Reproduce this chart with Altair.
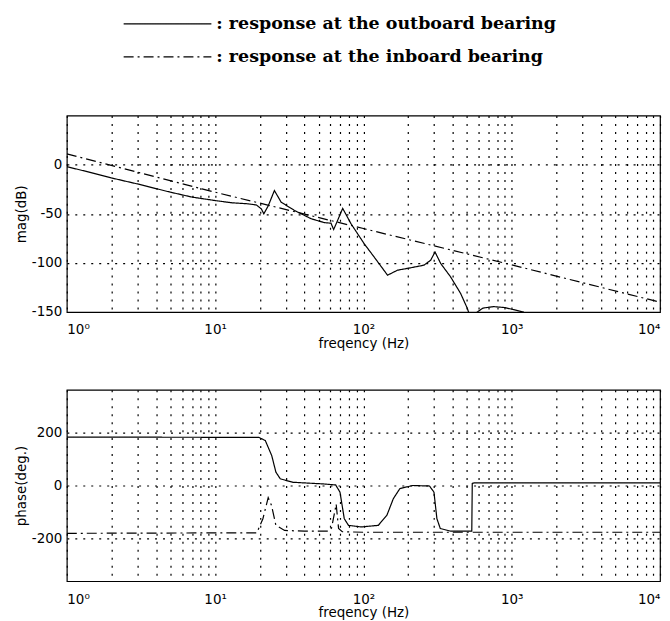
import altair as alt
import pandas as pd

SERIES = [": response at the outboard bearing", ": response at the inboard bearing"]

# magnitude, outboard bearing (solid)
mag_out_f = [1, 1.5, 2, 3, 5, 7, 10, 13, 16.6, 19, 20.5, 21.3, 22.8, 25.1, 27.9, 34.3, 44.4, 54.5,
             60.4, 63, 66, 72.5, 82.4, 101, 118, 145.5, 170, 208, 256, 284, 304, 332, 387, 452,
             501, 540, 586, 640, 754, 900, 1200, 1300, 10000]
mag_out_db = [-2, -8.5, -13.5, -19.6, -28, -33, -36.5, -38.8, -39.8, -41, -45, -50, -42, -26.3, -38.2,
              -46.6, -55, -59, -59.5, -66, -59, -44.5, -60, -80.3, -93.9, -112.5, -107.4, -105,
              -102.3, -97.3, -88.9, -100.6, -114.2, -131, -146, -160, -150, -146, -144.5, -145.5,
              -150, -160, -200]
# magnitude, inboard bearing (dash-dot)
mag_in_f = [1, 10, 100, 1000, 10000]
mag_in_db = [11, -28, -65, -102, -140]

# phase, outboard bearing (solid)
ph_out_f = [1, 19.7, 21.8, 24.1, 25.7, 27.5, 33.5, 53, 65, 69.5, 74.3, 79.3, 96.8, 126, 144, 159,
            176, 214, 279, 299, 313, 330, 389, 538, 542, 560, 10000]
ph_out_deg = [182, 181, 169, 112, 50, 25, 12, 6, 2, -25, -125, -150, -156, -150, -112, -50,
              -12, 0, -2, -25, -125, -162, -172, -172, 8, 10, 10]
# phase, inboard bearing (dash-dot)
ph_in_f = [1, 19.1, 21, 22.8, 24, 25.7, 29.4, 40, 58, 61, 64, 65.5, 68, 72, 100, 1000, 10000]
ph_in_deg = [-180, -178, -125, -46, -75, -150, -169, -172, -172, -160, -100, -70, -162, -174, -176, -176, -176]

X_TICKS = [d * 10 ** k for k in range(4) for d in range(1, 10)] + [10000]
MAG_TICKS = [-150, -100, -50, 0]
PH_TICKS = [-200, 0, 200]


def frame(fs, vs, name):
    return pd.DataFrame({"f": fs, "v": vs, "s": name, "o": list(range(len(fs)))})


mag = pd.concat([frame(mag_out_f, mag_out_db, SERIES[0]), frame(mag_in_f, mag_in_db, SERIES[1])])
ph = pd.concat([frame(ph_out_f, ph_out_deg, SERIES[0]), frame(ph_in_f, ph_in_deg, SERIES[1])])
leg = pd.DataFrame({"s": SERIES})

X_LABELS = ("datum.value == 1 ? '10⁰' : datum.value == 10 ? '10¹' : datum.value == 100 ? '10²' : "
            "datum.value == 1000 ? '10³' : datum.value == 10000 ? '10⁴' : ''")
Y_LABELS = "datum.value < 0 ? '-' + abs(datum.value) : '' + datum.value"

FONT = "DejaVu Sans"
common_axis = dict(grid=True, gridDash=[2, 6], gridColor="black", gridOpacity=1, gridWidth=1.2,
                   tickSize=0, domain=False, labelFont=FONT, labelFontSize=13.5,
                   labelColor="black", titleFont=FONT, titleFontWeight="normal",
                   titleColor="black", titleFontSize=13.5, labelOverlap=False)

DASH = alt.Scale(domain=SERIES, range=[[1, 0], [10, 4, 2, 4]])


def xenc():
    return alt.X("f:Q", scale=alt.Scale(type="log", domain=[1, 10000], nice=False),
                 axis=alt.Axis(values=X_TICKS, labelExpr=X_LABELS, title="freqency (Hz)",
                               labelPadding=11, titlePadding=0, **common_axis))


def yaxis(ticks, title):
    return alt.Axis(values=ticks, labelExpr=Y_LABELS, title=title, labelPadding=5,
                    titlePadding=3, **common_axis)


LEG_Y = alt.Y("s:N", scale=alt.Scale(type="point", domain=SERIES, range=[9, 42], padding=0), axis=None)

legend_rules = alt.Chart(leg).mark_rule(color="black", strokeWidth=1.2).encode(
    x=alt.value(57), x2=alt.value(145),
    y=LEG_Y,
    strokeDash=alt.StrokeDash("s:N", scale=DASH, legend=None),
)
legend_text = alt.Chart(leg).mark_text(align="left", baseline="middle", font="DejaVu Serif",
                                       fontWeight="bold", fontSize=17.5, color="black").encode(
    x=alt.value(150),
    y=LEG_Y,
    text="s:N",
)
legend_chart = alt.layer(legend_rules, legend_text).properties(
    width=595, height=61, view=alt.ViewBackground(stroke="transparent"))

top = alt.Chart(mag).mark_line(clip=True, color="black", strokeWidth=1.2).encode(
    x=xenc(),
    y=alt.Y("v:Q", scale=alt.Scale(domain=[-150, 50], nice=False), axis=yaxis(MAG_TICKS, "mag(dB)")),
    strokeDash=alt.StrokeDash("s:N", scale=DASH, legend=None),
    order="o:Q",
).properties(width=595, height=197)

bottom = alt.Chart(ph).mark_line(clip=True, color="black", strokeWidth=1.2).encode(
    x=xenc(),
    y=alt.Y("v:Q", scale=alt.Scale(domain=[-360, 360], nice=False), axis=yaxis(PH_TICKS, "phase(deg.)")),
    strokeDash=alt.StrokeDash("s:N", scale=DASH, legend=None),
    order="o:Q",
).properties(width=595, height=192)

chart = alt.vconcat(legend_chart, top, bottom, spacing=38).resolve_scale(y="independent").properties(
    padding={"left": 5, "top": 5, "right": 0, "bottom": 0}
).configure_view(stroke="black", strokeWidth=1.2)

chart.save("out.html", embed_options={"renderer": "svg", "actions": False})
